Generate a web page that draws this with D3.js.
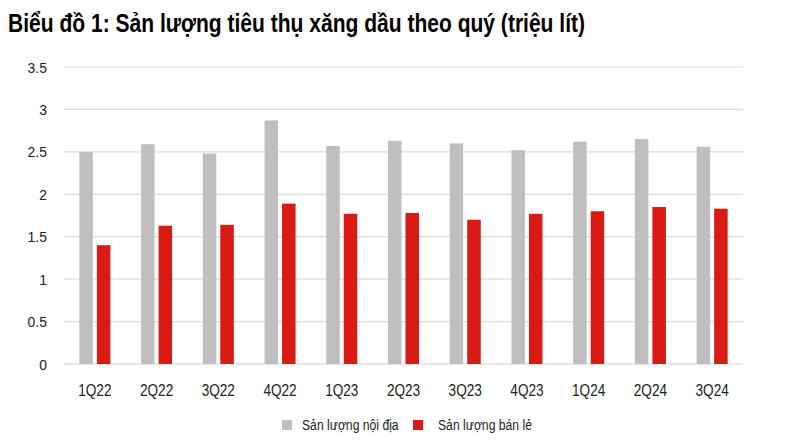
<!DOCTYPE html>
<html>
<head>
<meta charset="utf-8">
<script src="https://cdn.jsdelivr.net/npm/d3@7"></script>
<style>
  body { margin: 0; background: #fff; }
  text { font-family: "Liberation Sans", Arial, sans-serif; }
</style>
</head>
<body>
<div id="chart"></div>
<script>
var quarters = ["1Q22","2Q22","3Q22","4Q22","1Q23","2Q23","3Q23","4Q23","1Q24","2Q24","3Q24"];
var noiDia = [2.50, 2.59, 2.48, 2.87, 2.57, 2.63, 2.60, 2.52, 2.62, 2.65, 2.56];
var banLe  = [1.40, 1.63, 1.64, 1.89, 1.77, 1.78, 1.70, 1.77, 1.80, 1.85, 1.83];
var yTicks = [0, 0.5, 1, 1.5, 2, 2.5, 3, 3.5];
var seriesNames = ["Sản lượng nội địa", "Sản lượng bán lẻ"];
var colors = ["#bfbfbf", "#da1a14"];

var width = 800, height = 445;
var margin = { top: 67, right: 57, bottom: 81, left: 64 };

var svg = d3.select("#chart").append("svg")
    .attr("width", width)
    .attr("height", height);

// narrow look: squeeze glyphs horizontally
function narrow(x, y, sx) {
    return "translate(" + x + "," + y + ") scale(" + sx + ",1)";
}

svg.append("text")
    .attr("x", 8)
    .attr("y", 32)
    .attr("font-size", "25px")
    .attr("font-weight", "bold")
    .attr("fill", "#000")
    .attr("textLength", 577)
    .attr("lengthAdjust", "spacingAndGlyphs")
    .text("Biểu đồ 1: Sản lượng tiêu thụ xăng dầu theo quý (triệu lít)");

var xscale = d3.scaleBand()
    .domain(quarters)
    .range([margin.left, width - margin.right]);

var yscale = d3.scaleLinear()
    .domain([0, 3.5])
    .range([height - margin.bottom, margin.top]);

// gridlines
svg.append("g")
    .selectAll("line")
    .data(yTicks)
    .enter().append("line")
    .attr("x1", margin.left)
    .attr("x2", width - margin.right)
    .attr("y1", function(d) { return yscale(d); })
    .attr("y2", function(d) { return yscale(d); })
    .attr("stroke", function(d) { return d === 0 ? "#d0d0d0" : "#dcdcdc"; })
    .attr("stroke-width", 1.2);

// y labels
svg.append("g")
    .selectAll("text")
    .data(yTicks)
    .enter().append("text")
    .attr("transform", function(d) { return narrow(47, yscale(d), 0.9); })
    .attr("dy", "0.36em")
    .attr("text-anchor", "end")
    .attr("font-size", "15.5px")
    .attr("fill", "#222")
    .text(function(d) { return d; });

// x labels
svg.append("g")
    .selectAll("text")
    .data(quarters)
    .enter().append("text")
    .attr("transform", function(d) { return narrow(xscale(d) + xscale.bandwidth() / 2, 390, 0.85); })
    .attr("dy", "0.36em")
    .attr("text-anchor", "middle")
    .attr("font-size", "16px")
    .attr("fill", "#222")
    .text(function(d) { return d; });

var barW = 13.5, gap = 4;

svg.append("g")
    .selectAll("rect")
    .data(quarters)
    .enter().append("rect")
    .attr("x", function(d) { return xscale(d) + xscale.bandwidth() / 2 - gap / 2 - barW; })
    .attr("y", function(d, i) { return yscale(noiDia[i]); })
    .attr("width", barW)
    .attr("height", function(d, i) { return yscale(0) - yscale(noiDia[i]); })
    .attr("fill", colors[0]);

svg.append("g")
    .selectAll("rect")
    .data(quarters)
    .enter().append("rect")
    .attr("x", function(d) { return xscale(d) + xscale.bandwidth() / 2 + gap / 2; })
    .attr("y", function(d, i) { return yscale(banLe[i]); })
    .attr("width", barW)
    .attr("height", function(d, i) { return yscale(0) - yscale(banLe[i]); })
    .attr("fill", colors[1]);

// legend
var legendX = [282, 413];
var legend = svg.append("g")
    .selectAll("g")
    .data(seriesNames)
    .enter().append("g")
    .attr("transform", function(d, i) { return "translate(" + legendX[i] + ",420)"; });

legend.append("rect")
    .attr("width", 10)
    .attr("height", 10)
    .attr("fill", function(d, i) { return colors[i]; });

legend.append("text")
    .attr("transform", function(d, i) { return narrow(i === 0 ? 20 : 25, 5, 0.87); })
    .attr("dy", "0.36em")
    .attr("font-size", "14px")
    .attr("fill", "#222")
    .text(function(d) { return d; });
</script>
</body>
</html>
